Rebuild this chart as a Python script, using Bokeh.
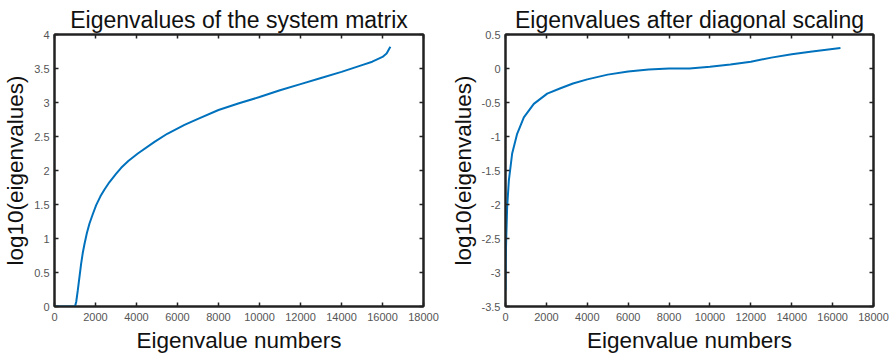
from bokeh.plotting import figure
from bokeh.layouts import row
from bokeh.models import Range1d, FixedTicker, LinearAxis, CustomJSTickFormatter
from bokeh.embed import file_html
from bokeh.resources import INLINE

# Left panel: eigenvalues of the system matrix
x_sys = [0, 500, 1000, 1060, 1137, 1220, 1300, 1380, 1463, 1580, 1707, 1870, 2033, 2240,
         2439, 2683, 3000, 3252, 3600, 4065, 4878, 5500, 6341, 7000, 8000, 9000, 10000,
         11000, 12000, 13000, 14000, 15000, 15500, 16000, 16200, 16384]
y_sys = [0, 0, 0, 0.07, 0.24, 0.44, 0.63, 0.79, 0.92, 1.08, 1.22, 1.36, 1.49, 1.62,
         1.72, 1.83, 1.95, 2.04, 2.14, 2.25, 2.42, 2.54, 2.67, 2.76, 2.89, 2.99, 3.08,
         3.18, 3.27, 3.36, 3.45, 3.55, 3.60, 3.67, 3.72, 3.82]

# Right panel: eigenvalues after diagonal scaling
x_scl = [0, 10, 33, 81, 163, 326, 570, 897, 1385, 2040, 2690, 3300, 4000, 5000, 6000,
         7000, 8000, 9000, 10000, 11000, 12000, 13000, 14000, 15000, 16384]
y_scl = [-3.26, -2.85, -2.53, -2.04, -1.65, -1.25, -0.96, -0.72, -0.52, -0.37, -0.29,
         -0.22, -0.16, -0.09, -0.045, -0.015, 0.0, 0.0, 0.025, 0.06, 0.10, 0.16, 0.21,
         0.25, 0.30]

x_ticks = [0, 2000, 4000, 6000, 8000, 10000, 12000, 14000, 16000, 18000]
y_ticks_sys = [0, 0.5, 1, 1.5, 2, 2.5, 3, 3.5, 4]
y_ticks_scl = [-3.5, -3, -2.5, -2, -1.5, -1, -0.5, 0, 0.5]

FONT = "Liberation Sans"
LINE_COLOR = "#0072BD"
FRAME = "#222222"


def make_panel(title, xs, ys, yticks, ymin, ymax, fw, border_left, border_right):
    p = figure(frame_width=fw, frame_height=272, output_backend="svg", toolbar_location=None,
               x_range=Range1d(0, 18000), y_range=Range1d(ymin, ymax),
               min_border_left=border_left, min_border_right=border_right,
               min_border_top=34, min_border_bottom=48)
    p.title.text = title
    p.title.align = "center"
    p.title.text_font = FONT
    p.title.text_font_size = "23px"
    p.title.text_font_style = "normal"
    p.title.text_color = "#111111"
    p.title.offset = 0
    p.title.standoff = 3
    p.grid.visible = False
    p.outline_line_color = FRAME
    p.outline_line_width = 2
    p.background_fill_color = "white"
    p.border_fill_color = "white"

    fmt = CustomJSTickFormatter(code="return tick.toString();")
    p.xaxis.ticker = FixedTicker(ticks=x_ticks)
    p.yaxis.ticker = FixedTicker(ticks=yticks)
    p.xaxis.formatter = fmt
    p.yaxis.formatter = fmt
    for ax in (p.xaxis, p.yaxis):
        ax.major_tick_in = 4
        ax.major_tick_out = 0
        ax.minor_tick_line_color = None
        ax.major_tick_line_color = FRAME
        ax.major_tick_line_width = 1.5
        ax.axis_line_color = FRAME
        ax.axis_line_width = 2
        ax.major_label_text_font = FONT
        ax.major_label_text_font_size = "11px"
        ax.major_label_text_color = "#555555"
        ax.axis_label_text_font = FONT
        ax.axis_label_text_font_size = "22.5px"
        ax.axis_label_text_font_style = "normal"
        ax.axis_label_text_color = "#111111"
    p.xaxis.axis_label = "Eigenvalue numbers"
    p.yaxis.axis_label = "log10(eigenvalues)"
    p.xaxis.major_label_standoff = 6
    p.yaxis.major_label_standoff = 5
    p.xaxis.axis_label_standoff = 4
    p.yaxis.axis_label_standoff = 3

    blank = CustomJSTickFormatter(code="return '';")
    top = LinearAxis(ticker=FixedTicker(ticks=x_ticks), formatter=blank,
                     major_tick_in=4, major_tick_out=0, minor_tick_line_color=None,
                     major_tick_line_color=FRAME, major_tick_line_width=1.5,
                     axis_line_color=FRAME, axis_line_width=2,
                     major_label_standoff=0)
    right = LinearAxis(ticker=FixedTicker(ticks=yticks), formatter=blank,
                       major_tick_in=4, major_tick_out=0, minor_tick_line_color=None,
                       major_tick_line_color=FRAME, major_tick_line_width=1.5,
                       axis_line_color=FRAME, axis_line_width=2,
                       major_label_standoff=0)
    p.add_layout(top, "above")
    p.add_layout(right, "right")

    p.line(xs, ys, line_color=LINE_COLOR, line_width=2)
    return p


p1 = make_panel("Eigenvalues of the system matrix", x_sys, y_sys, y_ticks_sys, 0, 4,
                369, 54, 23)
p2 = make_panel("Eigenvalues after diagonal scaling", x_scl, y_scl, y_ticks_scl, -3.5, 0.5,
                368, 59, 17)

layout = row(p1, p2, spacing=0)

with open("out.html", "w") as f:
    f.write(file_html(layout, INLINE))
